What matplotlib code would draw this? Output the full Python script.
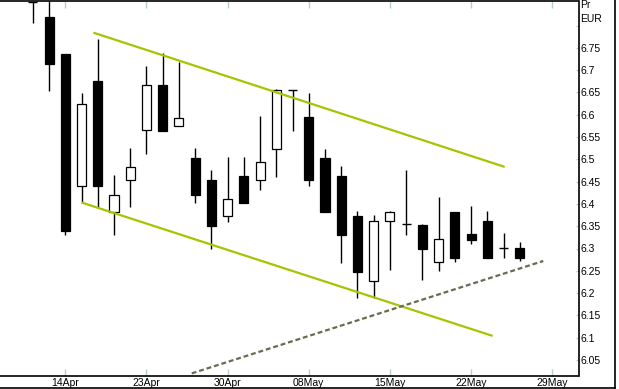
import matplotlib
matplotlib.use("Agg")
import matplotlib.pyplot as plt
from matplotlib.patches import Rectangle
from matplotlib.lines import Line2D

# ---- data ----
day_index = list(range(-2, 29))
opens  = [6.852, 6.819, 6.736, 6.441, 6.676, 6.381, 6.453, 6.566, 6.666, 6.574,
          6.503, 6.454, 6.372, 6.462, 6.453, 6.522, 6.655, 6.595, 6.502, 6.462,
          6.372, 6.228, 6.361, 6.354, 6.353, 6.270, 6.382, 6.333, 6.362, 6.302, 6.301]
highs  = [6.852, 6.870, 6.736, 6.649, 6.770, 6.465, 6.525, 6.709, 6.738, 6.719,
          6.525, 6.476, 6.505, 6.505, 6.597, 6.658, 6.655, 6.649, 6.524, 6.485,
          6.384, 6.374, 6.384, 6.476, 6.355, 6.416, 6.382, 6.395, 6.384, 6.334, 6.314]
lows   = [6.806, 6.654, 6.331, 6.402, 6.392, 6.331, 6.392, 6.513, 6.564, 6.574,
          6.401, 6.300, 6.360, 6.401, 6.432, 6.461, 6.563, 6.441, 6.381, 6.268,
          6.188, 6.188, 6.252, 6.330, 6.229, 6.250, 6.270, 6.311, 6.279, 6.279, 6.272]
closes = [6.852, 6.714, 6.340, 6.625, 6.441, 6.421, 6.482, 6.666, 6.564, 6.593,
          6.421, 6.351, 6.412, 6.401, 6.493, 6.655, 6.655, 6.453, 6.381, 6.331,
          6.248, 6.361, 6.381, 6.354, 6.300, 6.321, 6.279, 6.319, 6.279, 6.302, 6.279]

xtick_pos = [0, 5, 10, 15, 20, 25, 30]
xtick_labels = ["14Apr", "23Apr", "30Apr", "08May", "15May", "22May", "29May"]
ytick_vals = [6.05, 6.1, 6.15, 6.2, 6.25, 6.3, 6.35, 6.4, 6.45, 6.5, 6.55,
              6.6, 6.65, 6.7, 6.75, 6.8]
ytick_labels = ["6.05", "6.1", "6.15", "6.2", "6.25", "6.3", "6.35", "6.4", "6.45",
                "6.5", "6.55", "6.6", "6.65", "6.7", "6.75", ""]

upper_trend_x = [1.73, 27.07]
upper_trend_y = [6.784, 6.483]
lower_trend_x = [1.01, 26.33]
lower_trend_y = [6.403, 6.104]
support_x = [7.79, 29.45]
support_y = [6.020, 6.272]

# ---- figure ----
W, H = 619, 389
fig = plt.figure(figsize=(W / 100, H / 100), dpi=100)
fig.patch.set_facecolor("white")
ax_left, ax_right = 0.0, 578.5 / W
ax_top, ax_bottom = 1.3, 375.8
ax = fig.add_axes([ax_left, (H - ax_bottom) / H, ax_right - ax_left,
                   (ax_bottom - ax_top) / H])

FONT = "Liberation Sans"
FS = 7.5
tick_color = "#b4d2bc"
green = "#a6c400"
dash_color = "#6b6a4e"

body_w = 0.56
for i, o, h, l, c in zip(day_index, opens, highs, lows, closes):
    ax.add_line(Line2D([i, i], [l, h], color="black", lw=1.0, zorder=3,
                       solid_capstyle="butt"))
    bottom = min(o, c)
    height = abs(c - o)
    if height < 0.003:
        ax.add_line(Line2D([i - body_w / 2, i + body_w / 2], [o, o],
                           color="black", lw=1.0, zorder=4,
                           solid_capstyle="butt"))
    else:
        fc = "white" if c > o else "black"
        ax.add_patch(Rectangle((i - body_w / 2, bottom), body_w, height,
                               facecolor=fc, edgecolor="black", lw=0.9,
                               zorder=4))

ax.plot(upper_trend_x, upper_trend_y, color=green, lw=1.6, zorder=5,
        solid_capstyle="butt")
ax.plot(lower_trend_x, lower_trend_y, color=green, lw=1.6, zorder=5,
        solid_capstyle="butt")
ax.plot(support_x, support_y, color=dash_color, lw=1.6, ls=(0, (2.2, 1.3)),
        zorder=5)

x_left = -65.3 / 16.23
x_right = (578.5 - 65.3) / 16.23
ax.set_xlim(x_left, x_right)
y_per_px = 1 / 446.0
ax.set_ylim(6.05 - (ax_bottom - 360) * y_per_px, 6.05 + (360 - ax_top) * y_per_px)

ax.spines["left"].set_visible(False)
for s in ["top", "right", "bottom"]:
    ax.spines[s].set_color("black")
    ax.spines[s].set_linewidth(1.2)

ax.set_xticks(xtick_pos)
ax.set_xticklabels(xtick_labels, fontfamily=FONT, fontsize=FS)
ax.tick_params(axis="x", direction="in", length=5, width=1, color=tick_color,
               top=True, bottom=True, labelbottom=True, pad=1.5)

ax.yaxis.tick_right()
ax.set_yticks(ytick_vals)
ax.set_yticklabels(ytick_labels, fontfamily=FONT, fontsize=FS)
ax.tick_params(axis="y", direction="in", length=2.5, width=1, color=tick_color,
               left=False, right=True, pad=1.5)

fig.text(580 / W, 1 - 5.5 / H, "Pr", fontfamily=FONT, fontsize=FS,
         ha="left", va="center")
fig.text(580 / W, 1 - 19 / H, "EUR", fontfamily=FONT, fontsize=FS,
         ha="left", va="center")

# outer frame lines (right and bottom)
fig.add_artist(Line2D([614.5 / W, 614.5 / W], [1 - 387.5 / H, 1.0],
                      transform=fig.transFigure, color="black", lw=1.2))
fig.add_artist(Line2D([0, 614.5 / W], [1 - 387.5 / H, 1 - 387.5 / H],
                      transform=fig.transFigure, color="black", lw=1.2))

fig.savefig("out.png", dpi=100, facecolor="white")
